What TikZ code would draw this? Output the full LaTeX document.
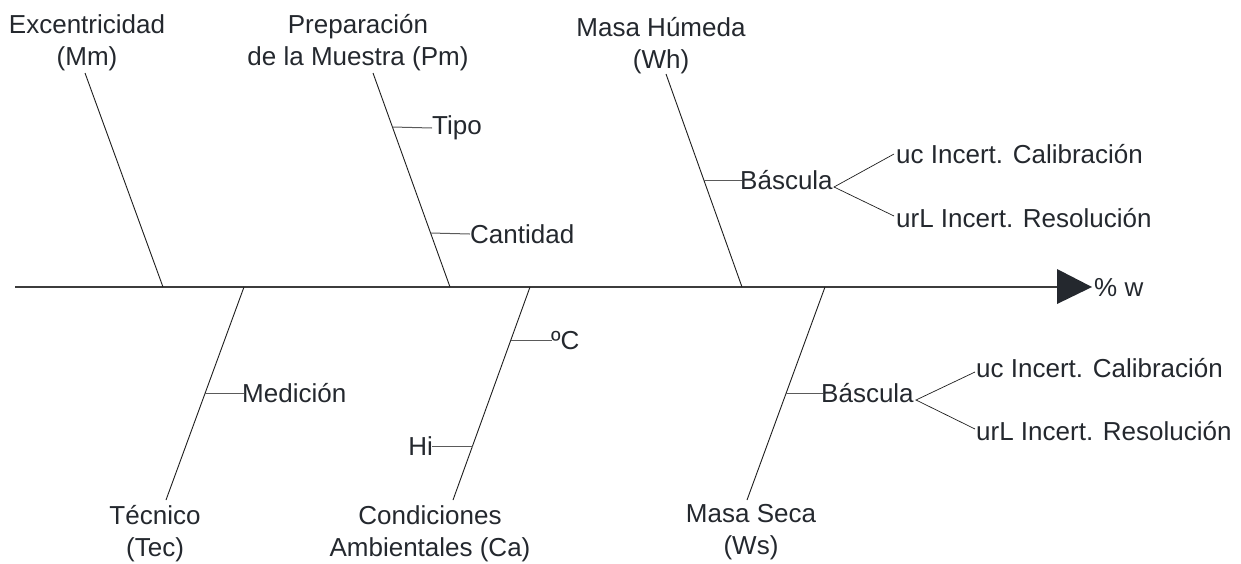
\documentclass[tikz,border=0pt]{standalone}
\usepackage{fontspec}
\setmainfont{Liberation Sans}
\definecolor{txt}{HTML}{24282E}
\definecolor{ln}{HTML}{1E1E1E}
\definecolor{tk}{HTML}{5A5A5A}
\definecolor{sp}{HTML}{3C3C3C}
\newcommand{\twol}[2]{\begin{tabular}[t]{@{}c@{}}#1\\#2\end{tabular}}
\begin{document}
\begin{tikzpicture}[x=1pt,y=-1pt,
  lbl/.style={inner sep=0pt, text=txt, font=\fontsize{26}{32}\selectfont},
  bone/.style={draw=ln, line width=0.9pt},
  tickln/.style={draw=tk, line width=1pt},
  thin/.style={draw=ln, line width=0.7pt},
  spine/.style={draw=sp, line width=1.1pt}]
\useasboundingbox (0,0) rectangle (1241,563);

% spine and head
\coordinate (tail) at (15,287);
\coordinate (hb) at (1057,287);
\coordinate (ht) at (1057,269);
\coordinate (tip) at (1092,287);
\coordinate (hd) at (1057,304);
\draw[spine] (tail) -- (hb);
\fill[txt] (ht) -- (tip) -- (hd) -- cycle;
\node[lbl, anchor=base west] (out) at (1094,296) {\% w};

% ---- upper bones ----
\node[lbl, anchor=base] (exc) at (87,33) {\twol{Excentricidad}{(Mm)}};
\coordinate (e0) at (85,73); \coordinate (e1) at (163,287);
\draw[bone] (e0) -- (e1);

\node[lbl, anchor=base] (prep) at (358,33) {\twol{Preparación}{de la Muestra (Pm)}};
\coordinate (p0) at (373,73); \coordinate (p1) at (450,287);
\draw[bone] (p0) -- (p1);
\coordinate (pt) at (392.5,127);
\node[lbl, anchor=west] (tipo) at (432,128) {Tipo};
\draw[tickln] (pt) -- (tipo.west);
\coordinate (pc) at (430.5,233);
\node[lbl, anchor=west] (cant) at (470,234) {Cantidad};
\draw[tickln] (pc) -- (cant.west);

\node[lbl, anchor=base] (mh) at (661,36) {\twol{Masa Húmeda}{(Wh)}};
\coordinate (h0) at (666,74); \coordinate (h1) at (742,287);
\draw[bone] (h0) -- (h1);
\coordinate (hbq) at (704,180);
\node[lbl, anchor=base west] (bas1) at (740,189) {Báscula};
\draw[tickln] (hbq) -- (742,180);
\coordinate (j1) at (834,187);
\coordinate (j1a) at (894,154);
\coordinate (j1b) at (894,216);
\draw[thin] (j1a) -- (j1) -- (j1b);
\node[lbl, anchor=base west] (uc1) at (896,163) {uc Incert. Calibración};
\node[lbl, anchor=base west] (ur1) at (896,227) {urL Incert. Resolución};

% ---- lower bones ----
\node[lbl, anchor=base] (tec) at (155,524) {\twol{Técnico}{(Tec)}};
\coordinate (t0) at (244,287); \coordinate (t1) at (166,500);
\draw[bone] (t0) -- (t1);
\coordinate (tm) at (205,393);
\node[lbl, anchor=base west] (med) at (242,402) {Medición};
\draw[tickln] (tm) -- (244,393);

\node[lbl, anchor=base] (ca) at (430,524) {\twol{Condiciones}{Ambientales (Ca)}};
\coordinate (c0) at (530,287); \coordinate (c1) at (453,500);
\draw[bone] (c0) -- (c1);
\coordinate (cc) at (511,340);
\node[lbl, anchor=base west] (grad) at (551,349) {ºC};
\draw[tickln] (cc) -- (552,340);
\coordinate (ch) at (472.5,446);
\node[lbl, anchor=base east] (hi) at (433,455) {Hi};
\draw[tickln] (ch) -- (432,446);

\node[lbl, anchor=base] (ms) at (751,522) {\twol{Masa Seca}{(Ws)}};
\coordinate (s0) at (825,287); \coordinate (s1) at (747,500);
\draw[bone] (s0) -- (s1);
\coordinate (sbq) at (786,393);
\node[lbl, anchor=base west] (bas2) at (821,402) {Báscula};
\draw[tickln] (sbq) -- (823,393);
\coordinate (j2) at (916,400);
\coordinate (j2a) at (975,372);
\coordinate (j2b) at (975,429);
\draw[thin] (j2a) -- (j2) -- (j2b);
\node[lbl, anchor=base west] (uc2) at (976,377) {uc Incert. Calibración};
\node[lbl, anchor=base west] (ur2) at (976,440) {urL Incert. Resolución};
\end{tikzpicture}
\end{document}
